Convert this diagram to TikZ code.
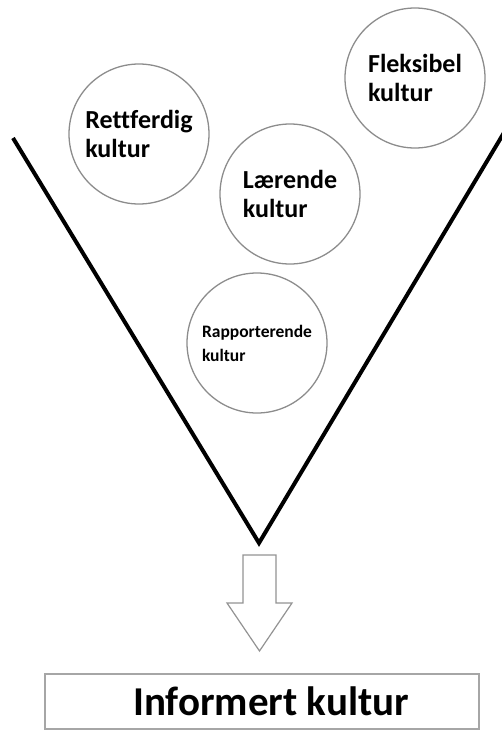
\documentclass[tikz,border=0pt]{standalone}
\usepackage{fontspec}
\setmainfont{Carlito}[Ligatures=NoCommon]
\usetikzlibrary{positioning}

\begin{document}
\begin{tikzpicture}[
  x=1pt, y=-1pt,
  kultur/.style={draw=gray!90, line width=1.3pt, circle, minimum size=140pt,
                 inner sep=0pt, align=left,
                 font=\fontsize{26}{29}\selectfont\bfseries},
  smallkultur/.style={kultur, font=\fontsize{17.5}{24}\selectfont\bfseries},
  funnel/.style={line width=4pt},
  hollow/.style={draw=gray!85, line width=1.2pt, fill=white},
  infobox/.style={draw=gray!70, line width=2pt, minimum width=434pt,
                  minimum height=55pt, inner sep=0pt,
                  font=\fontsize{41}{44}\selectfont\bfseries}
]
\useasboundingbox (0,0) rectangle (501,731);

%% Funnel
\coordinate (ftl)  at (13,138);
\coordinate (ftr)  at (505,131);
\coordinate (ftip) at (259,543);
\draw[funnel] (ftl) -- (ftip) -- (ftr);

%% Cultures in the funnel
\node[kultur] (rett) at (139,134) {Rettferdig\\kultur};
\node[kultur] (flek) at (415,78)  {Fleksibel\\kultur};
\node[kultur] (laer) at (290,194) {Lærende\\kultur};
\node[smallkultur] (rapp) at (257,343) {Rapporterende\\kultur};

%% Hollow arrow down to the result
\coordinate (atop) at (259.5,555);
\draw[hollow] ([xshift=-16.5pt]atop) -- ++(0,48) -- ++(-16,0)
  -- (259.5,651) -- (292,603) -- ++(-16,0) -- ([xshift=16.5pt]atop) -- cycle;

%% Result
\node[infobox] (info) at (262,701.5) {\hspace*{18pt}Informert kultur};
\end{tikzpicture}
\end{document}
